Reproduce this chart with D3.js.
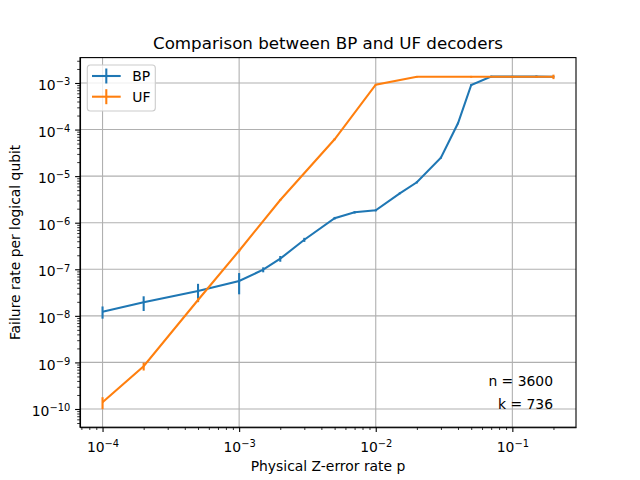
<!DOCTYPE html>
<html>
<head>
<meta charset="utf-8">
<script src="https://cdn.jsdelivr.net/npm/d3@7"></script>
<style>
  body { margin: 0; background: #fff; }
  text { font-family: "DejaVu Sans", sans-serif; }
  .axis path, .axis line { stroke: #000; stroke-width: 1.1px; }
  .axis text { font-size: 13.9px; fill: #000; }
  .minor line { stroke-width: 0.8px; }
  .grid line { stroke: #b0b0b0; stroke-width: 1.1px; }
</style>
</head>
<body>
<script>
// physical error rates
var pBP = [1e-4, 2e-4, 5e-4, 1e-3, 1.5e-3, 2e-3, 3e-3, 5e-3, 7e-3, 1e-2, 1.5e-2, 2e-2, 3e-2, 4e-2, 5e-2, 7e-2, 0.1, 0.15, 0.2];
var fBP = [1.23e-8, 1.95e-8, 3.42e-8, 5.6e-8, 9.8e-8, 1.69e-7, 4.3e-7, 1.25e-6, 1.67e-6, 1.85e-6, 4.28e-6, 7.38e-6, 2.49e-5, 1.36e-4, 9.06e-4, 1.37e-3, 1.37e-3, 1.37e-3, 1.36e-3];
var eBP = [3.6e-9, 6.8e-9, 1.45e-8, 2.7e-8, 1.2e-8, 2.4e-8, 4.3e-8, 8e-8, 1e-7, 1e-7, 2e-7, 4e-7, 1.2e-6, 6e-6, 4e-5, 6e-5, 5e-5, 8e-5, 6e-5];

var pUF = [1e-4, 2e-4, 5e-4, 1e-3, 2e-3, 5e-3, 1e-2, 2e-2, 5e-2, 0.1, 0.15, 0.2];
var fUF = [1.39e-10, 8.3e-10, 2.19e-8, 2.5e-7, 3.07e-6, 6.18e-5, 9.2e-4, 1.36e-3, 1.36e-3, 1.36e-3, 1.36e-3, 1.36e-3];
var eUF = [4e-11, 1.6e-10, 2e-9, 1.5e-8, 1.5e-7, 3e-6, 3e-5, 5e-5, 6e-5, 6e-5, 6e-5, 1.5e-4];

var xTicks = [1e-4, 1e-3, 1e-2, 1e-1];
var yTicks = [1e-10, 1e-9, 1e-8, 1e-7, 1e-6, 1e-5, 1e-4, 1e-3];

var margin = {top: 57.6, right: 64, bottom: 52.8, left: 80}
  , width = 640 - margin.left - margin.right
  , height = 480 - margin.top - margin.bottom;

var xScale = d3.scaleLog().domain([Math.pow(10, -4.165), Math.pow(10, -0.534)]).range([0, width]);
var yScale = d3.scaleLog().domain([Math.pow(10, -10.391), Math.pow(10, -2.455)]).range([height, 0]);

var svg = d3.select("body").append("svg")
    .attr("width", 640)
    .attr("height", 480)
  .append("g")
    .attr("transform", "translate(" + margin.left + "," + margin.top + ")");

// minor tick positions 2..9 per decade
function minors(scale) {
  var d = scale.domain(), out = [];
  for (var e = Math.floor(Math.log10(d[0])); e <= Math.ceil(Math.log10(d[1])); e++) {
    for (var k = 2; k <= 9; k++) {
      var v = k * Math.pow(10, e);
      if (v >= d[0] && v <= d[1]) out.push(v);
    }
  }
  return out;
}

// grid
svg.append("g").attr("class", "grid")
  .selectAll("line").data(xTicks).enter().append("line")
    .attr("x1", function(d) { return xScale(d); }).attr("x2", function(d) { return xScale(d); })
    .attr("y1", 0).attr("y2", height);
svg.append("g").attr("class", "grid")
  .selectAll("line").data(yTicks).enter().append("line")
    .attr("y1", function(d) { return yScale(d); }).attr("y2", function(d) { return yScale(d); })
    .attr("x1", 0).attr("x2", width);

function sup(sel, dy) {
  sel.selectAll(".tick text").each(function(d) {
    var t = d3.select(this), e = Math.round(Math.log10(d));
    t.text(null).attr("dy", dy);
    t.append("tspan").text("10");
    t.append("tspan").attr("dy", "-0.5em").attr("font-size", "0.71em").text("\u2212" + Math.abs(e));
  });
}

// minor ticks
svg.append("g").attr("class", "axis minor")
    .attr("transform", "translate(0," + height + ")")
    .call(d3.axisBottom(xScale).tickValues(minors(xScale)).tickSize(2.8).tickFormat(""))
    .select(".domain").remove();
svg.append("g").attr("class", "axis minor")
    .call(d3.axisLeft(yScale).tickValues(minors(yScale)).tickSize(2.8).tickFormat(""))
    .select(".domain").remove();

// major axes
svg.append("g").attr("class", "x axis")
    .attr("transform", "translate(0," + height + ")")
    .call(d3.axisBottom(xScale).tickValues(xTicks).tickSize(4.9).tickPadding(4.9).tickSizeOuter(0))
    .call(function(g) { sup(g, "1.06em"); });
svg.append("g").attr("class", "y axis")
    .call(d3.axisLeft(yScale).tickValues(yTicks).tickSize(4.9).tickPadding(4.9).tickSizeOuter(0))
    .call(function(g) { sup(g, "0.48em"); });

// frame
svg.append("rect").attr("width", width).attr("height", height)
    .attr("fill", "none").attr("stroke", "#000").attr("stroke-width", 1.1);

var line = d3.line()
    .x(function(d) { return xScale(d[0]); })
    .y(function(d) { return yScale(d[1]); });

function series(p, f, e, color) {
  var pts = p.map(function(v, i) { return [v, f[i], e[i]]; });
  var g = svg.append("g");
  g.append("path").datum(pts)
    .attr("fill", "none").attr("stroke", color).attr("stroke-width", 2.08)
    .attr("d", line);
  g.selectAll(".err").data(pts).enter().append("line")
    .attr("class", "err")
    .attr("x1", function(d) { return xScale(d[0]); })
    .attr("x2", function(d) { return xScale(d[0]); })
    .attr("y1", function(d) { return yScale(Math.max(d[1] - d[2], 1e-14)); })
    .attr("y2", function(d) { return yScale(d[1] + d[2]); })
    .attr("stroke", color).attr("stroke-width", 2.08);
}
series(pBP, fBP, eBP, "#1f77b4");
series(pUF, fUF, eUF, "#ff7f0e");

// legend
var legend = svg.append("g").attr("transform", "translate(7.3,7.4)");
legend.append("rect").attr("width", 68).attr("height", 46).attr("rx", 3)
    .attr("fill", "#fff").attr("fill-opacity", 0.8).attr("stroke", "#cccccc").attr("stroke-width", 1.1);
[["BP", "#1f77b4"], ["UF", "#ff7f0e"]].forEach(function(s, i) {
  var y = 11 + i * 20.7;
  legend.append("line").attr("x1", 4.7).attr("x2", 33.4).attr("y1", y).attr("y2", y)
    .attr("stroke", s[1]).attr("stroke-width", 2.08);
  legend.append("line").attr("x1", 19).attr("x2", 19).attr("y1", y - 7.5).attr("y2", y + 7.5)
    .attr("stroke", s[1]).attr("stroke-width", 2.08);
  legend.append("text").attr("x", 45).attr("y", y + 5).attr("font-size", "13.9px").text(s[0]);
});

// annotations
svg.append("text").attr("x", 473).attr("y", 328.4).attr("text-anchor", "end")
    .attr("font-size", "13.9px").text("n = 3600");
svg.append("text").attr("x", 473).attr("y", 351.1).attr("text-anchor", "end")
    .attr("font-size", "13.9px").text("k = 736");

// title and labels
svg.append("text").attr("x", width / 2).attr("y", -8.3).attr("text-anchor", "middle")
    .attr("font-size", "16.7px").text("Comparison between BP and UF decoders");
svg.append("text").attr("x", width / 2).attr("y", height + 44).attr("text-anchor", "middle")
    .attr("font-size", "13.9px").text("Physical Z-error rate p");
svg.append("text").attr("transform", "translate(-60," + (height / 2) + ") rotate(-90)")
    .attr("text-anchor", "middle").attr("font-size", "13.9px").text("Failure rate per logical qubit");
</script>
</body>
</html>
